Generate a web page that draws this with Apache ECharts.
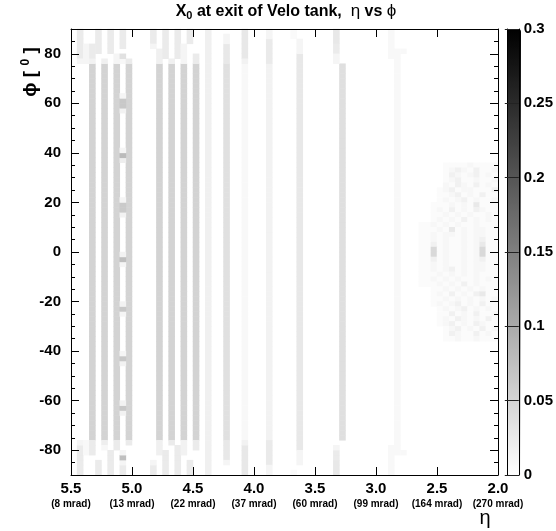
<!DOCTYPE html>
<html><head><meta charset="utf-8">
<script src="https://cdn.jsdelivr.net/npm/echarts@6/dist/echarts.min.js"></script>
<style>html,body{margin:0;padding:0;background:#fff}#c{width:556px;height:531px}</style>
</head><body><div id="c"></div>
<script>
// ---- binning of the histogram (eta: 5.5 -> 2.0 left to right, phi: -90 -> 90) ----
const etaLeft = 5.5, etaRight = 2.0, nEtaBins = 70;
const phiLow = -90, phiHigh = 90, nPhiBins = 90;

// ---- axis tick labels ----
const etaTicks = [5.5, 5.0, 4.5, 4.0, 3.5, 3.0, 2.5, 2.0];
const etaTickMrad = ['(8 mrad)', '(13 mrad)', '(22 mrad)', '(37 mrad)', '(60 mrad)', '(99 mrad)', '(164 mrad)', '(270 mrad)'];
const phiTickLabels = [-80, -60, -40, -20, 0, 20, 40, 60, 80];
const zMin = 0, zMax = 0.3, zStep = 0.05;

// ---- X0 values: [eta bin, first phi bin, last phi bin, X0] ----
const bodyStripes = [
  [3, 7, 82, 0.052], [5, 7, 82, 0.052], [7, 7, 82, 0.052], [9, 7, 82, 0.052],
  [14, 7, 82, 0.052], [16, 7, 82, 0.052], [18, 7, 82, 0.052], [20, 7, 82, 0.052],
  [22, 0, 89, 0.018], [25, 7, 82, 0.036], [28, 7, 82, 0.008], [32, 7, 82, 0.015],
  [37, 5, 84, 0.027], [44, 7, 82, 0.038], [53, 4, 85, 0.008]
];
const edgeCells = [
  [1, 84, 89, 0.023], [1, 83, 83, 0.012], [1, 0, 5, 0.023], [1, 6, 6, 0.012],
  [2, 83, 86, 0.012], [2, 4, 6, 0.008],
  [3, 84, 86, 0.023], [3, 83, 83, 0.015], [3, 4, 6, 0.023],
  [4, 85, 89, 0.023], [4, 0, 2, 0.023],
  [5, 83, 83, 0.018], [5, 6, 6, 0.020], [5, 5, 5, 0.010],
  [6, 85, 89, 0.023], [6, 0, 4, 0.023],
  [7, 83, 84, 0.012], [7, 5, 6, 0.023],
  [8, 86, 89, 0.023], [8, 83, 83, 0.010], [8, 0, 1, 0.023],
  [9, 83, 83, 0.023], [9, 6, 6, 0.023],
  [13, 87, 89, 0.023], [13, 86, 86, 0.012], [13, 0, 1, 0.023], [13, 2, 2, 0.012],
  [14, 83, 85, 0.018], [14, 4, 6, 0.018],
  [15, 84, 89, 0.023], [15, 0, 4, 0.023],
  [16, 83, 83, 0.018], [16, 6, 6, 0.023],
  [17, 84, 89, 0.023], [17, 0, 5, 0.023],
  [18, 83, 86, 0.012], [18, 4, 6, 0.015],
  [19, 87, 89, 0.023], [19, 0, 2, 0.023],
  [20, 83, 84, 0.023], [20, 5, 6, 0.023],
  [25, 83, 86, 0.027], [25, 87, 88, 0.012], [25, 3, 6, 0.027], [25, 2, 2, 0.012],
  [28, 84, 89, 0.027], [28, 83, 83, 0.015], [28, 0, 5, 0.027], [28, 6, 6, 0.015],
  [32, 83, 87, 0.025], [32, 88, 89, 0.012], [32, 2, 6, 0.025], [32, 0, 1, 0.012],
  [36, 88, 89, 0.006], [36, 0, 0, 0.006],
  [37, 85, 87, 0.012], [37, 2, 4, 0.012],
  [43, 87, 89, 0.027], [43, 85, 86, 0.023], [43, 83, 84, 0.012],
  [43, 0, 2, 0.027], [43, 3, 4, 0.023], [43, 5, 5, 0.012],
  [52, 84, 89, 0.008], [52, 0, 5, 0.008],
  [54, 85, 85, 0.008], [54, 4, 4, 0.008]
];
const spotCells = [
  [8, 2, 2, 0.012], [8, 3, 3, 0.075], [8, 4, 4, 0.012],
  [8, 12, 12, 0.015], [8, 13, 13, 0.065], [8, 14, 14, 0.015],
  [8, 22, 22, 0.015], [8, 23, 23, 0.065], [8, 24, 24, 0.012],
  [8, 32, 32, 0.012], [8, 33, 33, 0.065], [8, 34, 34, 0.015],
  [8, 42, 42, 0.012], [8, 43, 43, 0.075], [8, 44, 44, 0.015],
  [8, 52, 52, 0.015], [8, 53, 54, 0.062], [8, 55, 55, 0.012],
  [8, 63, 63, 0.020], [8, 64, 64, 0.080], [8, 65, 65, 0.012],
  [8, 73, 73, 0.015], [8, 74, 75, 0.065], [8, 76, 76, 0.012],
  [8, 84, 84, 0.035]
];
// low-eta blob: eta bins 57..69, phi bins 62 (top) .. 27 (bottom); '.' = empty
const blobFirstEtaBin = 57, blobTopPhiBin = 62;
const blobLevels = { '1': 0.005, '2': 0.010, '3': 0.016, '4': 0.026, '5': 0.045 };
const blobRows = [
  '....111121111', '....123213112', '....132123121', '....123112112', '....213213121',
  '...1231221113', '...1123121311', '...1212312112', '..11121214111', '..12131213211',
  '..11212121121', '..12121312121', '1121212112111', '1112141212211', '1121221212211',
  '1121211212311', '1131211212411', '1151211212511', '1151211212511', '1131211212311',
  '1121211212211', '1121231212211', '1112121212111', '1121212112121', '1112121312111',
  '..11212121211', '..12131213411', '..11212121212', '..12123121311', '...1212312121',
  '...1131213112', '...1213212131', '...1231213211', '....123121312', '....132113121',
  '....112112111'
];

// ---- build the cell table ----
const etaWidth = (etaLeft - etaRight) / nEtaBins;
const phiWidth = (phiHigh - phiLow) / nPhiBins;
const etaCats = Array.from({length: nEtaBins}, (_, i) => (etaLeft - (i + 0.5) * etaWidth).toFixed(3));
const phiCats = Array.from({length: nPhiBins}, (_, j) => (phiLow + (j + 0.5) * phiWidth).toFixed(1));
const cells = {};
[bodyStripes, edgeCells, spotCells].forEach(list => list.forEach(([i, a, b, v]) => {
  for (let j = a; j <= b; j++) cells[i + ',' + j] = v;
}));
blobRows.forEach((row, r) => {
  [...row].forEach((ch, c) => {
    if (blobLevels[ch]) cells[(blobFirstEtaBin + c) + ',' + (blobTopPhiBin - r)] = blobLevels[ch];
  });
});
const heatData = Object.keys(cells).map(k => { const [i, j] = k.split(',').map(Number); return [i, j, cells[k]]; });

// ---- chart ----
const FONT = "'Liberation Sans', Arial, Helvetica, sans-serif";
const plot = {left: 71, top: 29, width: 427, height: 446};
const bar = {left: 507, top: 29, width: 14, height: 446};
const black = '#000';
const lbl = {color: black, fontFamily: FONT, fontWeight: 'bold', fontSize: 15};
const line = {show: true, onZero: false, lineStyle: {color: black, width: 1}};
const noLine = {show: false, onZero: false};

const chart = echarts.init(document.getElementById('c'), null, {renderer: 'canvas'});
chart.setOption({
  animation: false,
  backgroundColor: '#fff',
  title: {
    text: 'X{sub|0} at exit of Velo tank,  {g|η} vs {g|ϕ}',
    left: 286, top: 2, padding: 0, textAlign: 'center',
    textStyle: {fontFamily: FONT, fontWeight: 'bold', fontSize: 16, color: black, lineHeight: 19,
      rich: {
        sub: {fontFamily: FONT, fontWeight: 'bold', fontSize: 11, lineHeight: 11, verticalAlign: 'bottom', color: black},
        g: {fontFamily: FONT, fontWeight: 'normal', fontSize: 17, color: black}
      }}
  },
  grid: [
    Object.assign({}, plot),
    Object.assign({}, plot),
    Object.assign({}, plot),
    Object.assign({}, bar)
  ],
  visualMap: {
    type: 'continuous', min: zMin, max: zMax, seriesIndex: 0, calculable: false, hoverLink: false,
    inRange: {color: ['#ffffff', '#000000']},
    orient: 'vertical', left: bar.left, top: bar.top, itemWidth: bar.width, itemHeight: bar.height, padding: 0
  },
  xAxis: [
    {gridIndex: 0, type: 'category', data: etaCats, show: false},
    {gridIndex: 1, type: 'value', position: 'bottom', min: etaRight, max: etaLeft, interval: 0.5, inverse: true, z: 10,
      axisLine: line,
      axisTick: {show: true, inside: true, length: 8, lineStyle: {color: black}},
      splitLine: {show: false},
      axisLabel: {margin: 6, color: black, formatter: v => {
          const k = etaTicks.findIndex(t => Math.abs(t - v) < 1e-6);
          return k < 0 ? '' : '{a|' + v.toFixed(1) + '}\n{b|' + etaTickMrad[k] + '}';
        },
        rich: {a: {fontFamily: FONT, fontWeight: 'bold', fontSize: 15, lineHeight: 16, color: black},
               b: {fontFamily: FONT, fontWeight: 'bold', fontSize: 10, lineHeight: 14, color: black}}}},
    {gridIndex: 2, type: 'value', position: 'top', min: etaRight, max: etaLeft, interval: 0.5, inverse: true, z: 10,
      axisLine: line,
      axisTick: {show: true, inside: true, length: 8, lineStyle: {color: black}},
      splitLine: {show: false}, axisLabel: {show: false}},
    {gridIndex: 3, type: 'value', position: 'bottom', min: 0, max: 1, z: 10,
      axisLine: line, axisTick: {show: false}, axisLabel: {show: false}, splitLine: {show: false}},
    {gridIndex: 3, type: 'value', position: 'top', min: 0, max: 1, z: 10,
      axisLine: line, axisTick: {show: false}, axisLabel: {show: false}, splitLine: {show: false}}
  ],
  yAxis: [
    {gridIndex: 0, type: 'category', data: phiCats, show: false},
    {gridIndex: 1, type: 'value', position: 'left', min: phiLow, max: phiHigh, interval: 5, z: 10,
      axisLine: line,
      axisTick: {show: true, inside: true, length: 4, lineStyle: {color: black}},
      splitLine: {show: false},
      axisLabel: Object.assign({margin: 10, formatter: v => phiTickLabels.includes(v) ? String(v) : ''}, lbl)},
    {gridIndex: 1, type: 'value', position: 'right', min: phiLow, max: phiHigh, interval: 5, z: 10,
      axisLine: line,
      axisTick: {show: true, inside: true, length: 4, lineStyle: {color: black}},
      splitLine: {show: false}, axisLabel: {show: false}},
    {gridIndex: 2, type: 'value', position: 'left', min: phiLow, max: phiHigh, z: 10,
      axisLine: noLine,
      axisTick: {show: true, inside: true, length: 8, customValues: phiTickLabels, lineStyle: {color: black}},
      splitLine: {show: false}, axisLabel: {show: false}},
    {gridIndex: 2, type: 'value', position: 'right', min: phiLow, max: phiHigh, z: 10,
      axisLine: noLine,
      axisTick: {show: true, inside: true, length: 8, customValues: phiTickLabels, lineStyle: {color: black}},
      splitLine: {show: false}, axisLabel: {show: false}},
    {gridIndex: 3, type: 'value', position: 'right', min: zMin, max: zMax, interval: zStep, z: 10,
      axisLine: line,
      axisTick: {show: true, inside: true, length: bar.width, lineStyle: {color: '#222'}},
      splitLine: {show: false},
      axisLabel: Object.assign({margin: 5}, lbl)},
    {gridIndex: 3, type: 'value', position: 'left', min: zMin, max: zMax, z: 10,
      axisLine: line, axisTick: {show: false}, axisLabel: {show: false}, splitLine: {show: false}}
  ],
  graphic: [
    {type: 'text', x: 31, y: 72, rotation: Math.PI / 2, z: 20,
      style: {text: 'ϕ [ {sup|0} ]', fill: black, fontFamily: FONT, fontWeight: 'bold', fontSize: 19, lineHeight: 22,
        align: 'center', verticalAlign: 'middle',
        rich: {sup: {fontFamily: FONT, fontWeight: 'bold', fontSize: 12, lineHeight: 12, verticalAlign: 'top', fill: black}}}},
    {type: 'text', x: 485, y: 518, z: 20,
      style: {text: 'η', fill: black, fontFamily: FONT, fontSize: 20, align: 'center', verticalAlign: 'middle'}}
  ],
  series: [{
    type: 'heatmap', xAxisIndex: 0, yAxisIndex: 0, data: heatData, progressive: 0,
    emphasis: {disabled: true}, itemStyle: {borderWidth: 0}
  }]
});
</script></body></html>
